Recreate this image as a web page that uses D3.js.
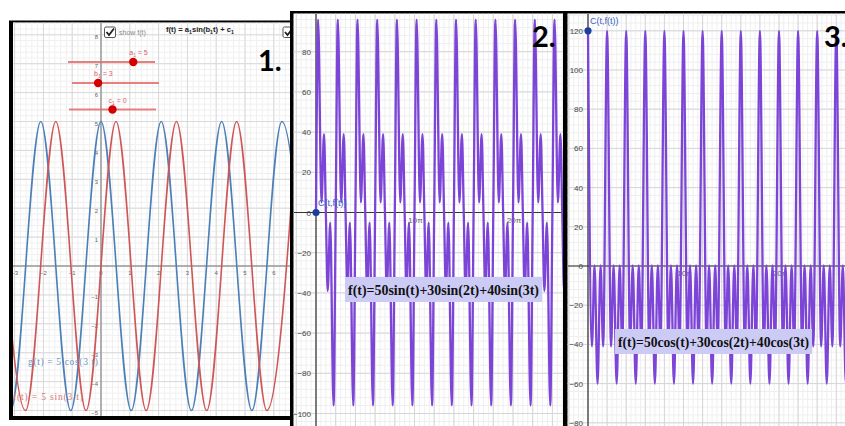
<!DOCTYPE html>
<html>
<head>
<meta charset="utf-8">
<script src="https://cdn.jsdelivr.net/npm/d3@7"></script>
<style>
  body { margin: 0; background: #fff; }
  svg { display: block; }
</style>
</head>
<body>
<div id="chart"></div>
<script>
// panel 1: g(t) = 5cos(3t) (blue) and f(t) = 5sin(3t) (red), turning points
const cosTurnT = [-4.19, -3.14, -2.09, -1.05, 0, 1.05, 2.09, 3.14, 4.19, 5.24, 6.28, 7.33];
const cosTurnV = [5, -5, 5, -5, 5, -5, 5, -5, 5, -5, 5, -5];
const sinTurnT = [-3.67, -2.62, -1.57, -0.52, 0.52, 1.57, 2.62, 3.67, 4.71, 5.76, 6.81];
const sinTurnV = [5, -5, 5, -5, 5, -5, 5, -5, 5, -5, 5];
const p1XTicks = [-3, -2, -1, 0, 1, 2, 3, 4, 5, 6];
const p1YTicks = [8, 7, 6, 5, 4, 3, 2, 1, -1, -2, -3, -4, -5];
const sliderLabels = ["a_1 = 5", "b_1 = 3", "c_1 = 0"];
const sliderValues = [5, 3, 0];
const sliderMin = [-10, 0, -10];
const sliderMax = [10, 10, 10];

// panel 2: f(t)=50sin(t)+30sin(2t)+40sin(3t), one 2π cycle
const sinCycleT = [0, 0.68, 1.75, 2.55, 3.14, 3.73, 4.53, 5.6];
const sinCycleV = [0, 96, 5, 39, 0, -39, -5, -96];
const sinCycles = 13;
const p2YTicks = [80, 60, 40, 20, 0, -20, -40, -60, -80, -100];

// panel 3: f(t)=50cos(t)+30cos(2t)+40cos(3t)
const cosCycleT = [0, 1.29, 2.15, 3.14, 4.13, 4.99];
const cosCycleV = [120, -41, 0.3, -60, 0.3, -41];
const cosCycles = 14;
const p3YTicks = [120, 100, 80, 60, 40, 20, 0, -20, -40, -60, -80];

const piTicks = [10, 20];   // multiples of π on the t axis

const W = 845, H = 426;
const purple = "#7d44d8";

const svg = d3.select("#chart").append("svg")
  .attr("width", W).attr("height", H)
  .style("font-family", "'Liberation Sans', Arial, sans-serif");

const defs = svg.append("defs");
function clip(id, b) {
  defs.append("clipPath").attr("id", id)
    .append("rect").attr("x", b.left).attr("y", b.top)
    .attr("width", b.right - b.left).attr("height", b.bottom - b.top);
  return `url(#${id})`;
}

function frame(outer, inner) {
  svg.append("rect").attr("x", outer.left).attr("y", outer.top)
    .attr("width", outer.right - outer.left).attr("height", outer.bottom - outer.top)
    .attr("fill", "#000");
  svg.append("rect").attr("x", inner.left).attr("y", inner.top)
    .attr("width", inner.right - inner.left).attr("height", inner.bottom - inner.top)
    .attr("fill", "#fff");
}

// "a_1" -> a with a small lowered 1
function subText(text, str) {
  str.split(/_(\d)/).forEach((part, i) => {
    if (!part) return;
    const t = text.append("tspan").text(part);
    if (i % 2) t.attr("font-size", "70%").attr("dy", 2);
    else if (i > 0) t.attr("dy", -2);
  });
  return text;
}

function gridLines(g, b, x, y, xStep, yStep, color) {
  const [t0, t1] = [x.invert(b.left), x.invert(b.right)];
  const [v0, v1] = [y.invert(b.bottom), y.invert(b.top)];
  g.selectAll(null)
    .data(d3.range(Math.ceil(t0 / xStep), Math.floor(t1 / xStep) + 1).map(i => i * xStep))
    .join("line")
      .attr("x1", d => x(d)).attr("x2", d => x(d))
      .attr("y1", b.top).attr("y2", b.bottom)
      .attr("stroke", color).attr("stroke-width", 1);
  g.selectAll(null)
    .data(d3.range(Math.ceil(v0 / yStep), Math.floor(v1 / yStep) + 1).map(i => i * yStep))
    .join("line")
      .attr("x1", b.left).attr("x2", b.right)
      .attr("y1", d => y(d)).attr("y2", d => y(d))
      .attr("stroke", color).attr("stroke-width", 1);
}

// ---------------- panel 1 ----------------
function drawPanel1() {
  const b = { left: 13, right: 291, top: 22.5, bottom: 416 };
  frame({ left: 9, right: 292, top: 20.5, bottom: 420 }, b);

  const x = d3.scaleLinear().domain([0, 1]).range([101, 129.8]);
  const y = d3.scaleLinear().domain([0, 1]).range([266, 237.1]);
  const g = svg.append("g").attr("clip-path", clip("c1", b));

  gridLines(g, b, x, y, 0.2, 0.2, "#f0f0f0");
  gridLines(g, b, x, y, 1, 1, "#d9d9d9");

  // axes
  g.append("line").attr("x1", b.left).attr("x2", b.right)
    .attr("y1", y(0)).attr("y2", y(0)).attr("stroke", "#777");
  g.append("line").attr("x1", x(0)).attr("x2", x(0))
    .attr("y1", b.top).attr("y2", b.bottom).attr("stroke", "#777");

  g.selectAll(null).data(p1XTicks).join("text")
    .attr("x", d => x(d)).attr("y", y(0) + 8.5)
    .attr("text-anchor", "middle").attr("font-size", 6).attr("fill", "#666")
    .text(d => d < 0 ? "−" + Math.abs(d) : d);
  g.selectAll(null).data(p1YTicks).join("text")
    .attr("x", x(0) - 3).attr("y", d => y(d) + 4.5)
    .attr("text-anchor", "end").attr("font-size", 6).attr("fill", "#666")
    .text(d => d < 0 ? "−" + Math.abs(d) : d);

  const line = d3.line().x(d => x(d[0])).y(d => y(d[1])).curve(d3.curveMonotoneX);
  g.append("path").datum(d3.zip(cosTurnT, cosTurnV))
    .attr("d", line).attr("fill", "none").attr("stroke", "#4a7fb8").attr("stroke-width", 1.6);
  g.append("path").datum(d3.zip(sinTurnT, sinTurnV))
    .attr("d", line).attr("fill", "none").attr("stroke", "#cf5656").attr("stroke-width", 1.6);

  // sliders
  const sliderRows = [62, 83, 109.5];
  const sliderLeft = [68, 72, 69];
  sliderLabels.forEach((lab, i) => {
    const s = d3.scaleLinear().domain([sliderMin[i], sliderMax[i]])
      .range([sliderLeft[i], sliderLeft[i] + 87]);
    g.append("line").attr("x1", s.range()[0]).attr("x2", s.range()[1])
      .attr("y1", sliderRows[i]).attr("y2", sliderRows[i])
      .attr("stroke", "#e46a6a").attr("stroke-width", 1.8).attr("opacity", 0.85);
    g.append("circle").attr("cx", s(sliderValues[i])).attr("cy", sliderRows[i])
      .attr("r", 4.2).attr("fill", "#d40000");
    subText(g.append("text").attr("x", s(sliderValues[i]) - 4).attr("y", sliderRows[i] - 7)
      .attr("font-size", 7).attr("fill", "#e06060"), lab);
  });

  // checkboxes + title
  const checkbox = (cx, cy) => {
    g.append("rect").attr("x", cx).attr("y", cy).attr("width", 11).attr("height", 10.5)
      .attr("rx", 1.5).attr("fill", "#fff").attr("stroke", "#555").attr("stroke-width", 1);
    g.append("path").attr("d", `M${cx + 2},${cy + 5} L${cx + 4.5},${cy + 8} L${cx + 9.5},${cy + 1.5}`)
      .attr("fill", "none").attr("stroke", "#222").attr("stroke-width", 1.8);
  };
  checkbox(104.5, 27);
  checkbox(283, 27);
  g.append("text").attr("x", 119).attr("y", 34.5).attr("font-size", 7).attr("fill", "#888")
    .text("show f(t)");
  subText(g.append("text").attr("x", 166).attr("y", 32).attr("font-size", 7.6)
    .attr("font-weight", "bold").attr("fill", "#222"), "f(t) = a_1sin(b_1t) + c_1");

  g.append("text").attr("x", 28).attr("y", 365).attr("font-size", 9.5)
    .attr("font-family", "'Liberation Serif', serif").attr("fill", "#6f95c4")
    .attr("textLength", 70).text("g(t)  =  5 cos(3 t)");
  g.append("text").attr("x", 13).attr("y", 400).attr("font-size", 9.5)
    .attr("font-family", "'Liberation Serif', serif").attr("fill", "#d77a7a")
    .attr("textLength", 70).text("f(t)  =  5 sin(3 t)");

  svg.append("text").attr("x", 258).attr("y", 70.5).attr("font-size", 29)
    .attr("font-family", "Lato, sans-serif").attr("font-weight", "bold").text("1.");
}

// ---------------- panels 2 and 3 ----------------
function drawWavePanel(o) {
  const b = o.inner;
  frame(o.outer, b);
  const x = d3.scaleLinear().domain([0, 10 * Math.PI]).range([o.x0, o.x10pi]);
  const y = d3.scaleLinear().domain([0, 20]).range([o.y0, o.y0 - o.px20]);
  const g = svg.append("g").attr("clip-path", clip(o.id, b));

  gridLines(g, b, x, y, Math.PI / 2, 4, "#efefef");
  gridLines(g, b, x, y, 2 * Math.PI, 20, "#d6d6d6");

  g.append("line").attr("x1", b.left).attr("x2", b.right)
    .attr("y1", y(0)).attr("y2", y(0)).attr("stroke", "#333").attr("stroke-width", 1.2);
  g.append("line").attr("x1", x(0)).attr("x2", x(0))
    .attr("y1", b.top).attr("y2", b.bottom).attr("stroke", "#333").attr("stroke-width", 1.2);

  g.selectAll(null).data(o.yTicks).join("text")
    .attr("x", x(0) - 5).attr("y", d => y(d) + 3)
    .attr("text-anchor", "end").attr("font-size", 8).attr("fill", "#444")
    .text(d => d < 0 ? "−" + Math.abs(d) : d);
  g.selectAll(null).data(piTicks).join("text")
    .attr("x", d => x(d * Math.PI) + 1).attr("y", y(0) + 10)
    .attr("text-anchor", "middle").attr("font-size", 8).attr("fill", "#666")
    .text(d => d + "π");

  const pts = d3.range(o.cycles).flatMap(k =>
    o.cycleT.map((t, i) => [t + k * 2 * Math.PI, o.cycleV[i]]));
  pts.push([o.cycles * 2 * Math.PI, o.cycleV[0]]);
  const line = d3.line().x(d => x(d[0])).y(d => y(d[1])).curve(d3.curveMonotoneX);
  g.append("path").datum(pts).attr("d", line)
    .attr("fill", "none").attr("stroke", purple).attr("stroke-width", 2.3)
    .attr("stroke-linejoin", "round");

  g.append("circle").attr("cx", x(0)).attr("cy", y(o.cycleV[0])).attr("r", 3.6).attr("fill", "#1c3f9e");
  g.append("text").attr("x", x(0) + 2).attr("y", y(o.cycleV[0]) - 7)
    .attr("font-size", 9).attr("fill", "#3a60c8").text("C(t,f(t))");

  g.append("rect").attr("x", o.box[0]).attr("y", o.box[1])
    .attr("width", o.box[2]).attr("height", 25).attr("fill", "#cbcbf6");
  g.append("text").attr("x", o.box[0] + 3).attr("y", o.box[1] + 18)
    .attr("font-family", "'Liberation Serif', 'Times New Roman', serif")
    .attr("font-weight", "bold").attr("font-size", 14.5).attr("fill", "#111")
    .attr("textLength", o.box[2] - 6).attr("lengthAdjust", "spacingAndGlyphs")
    .text(o.formula);

  svg.append("text").attr("x", o.numX).attr("y", 47).attr("font-size", 29)
    .attr("font-family", "Lato, sans-serif").attr("font-weight", "bold").text(o.num);
}

drawPanel1();
drawWavePanel({
  id: "c2", num: "2.", numX: 532,
  outer: { left: 290, right: 565, top: 11, bottom: H },
  inner: { left: 293.5, right: 563, top: 13.5, bottom: H },
  x0: 316, x10pi: 414.5, y0: 212.5, px20: 40.2,
  cycleT: sinCycleT, cycleV: sinCycleV, cycles: sinCycles, yTicks: p2YTicks,
  box: [345, 277, 197], formula: "f(t)=50sin(t)+30sin(2t)+40sin(3t)"
});
drawWavePanel({
  id: "c3", num: "3.", numX: 824,
  outer: { left: 563, right: W, top: 11, bottom: H },
  inner: { left: 567.5, right: W, top: 13.5, bottom: H },
  x0: 588, x10pi: 683.5, y0: 266, px20: 39.2,
  cycleT: cosCycleT, cycleV: cosCycleV, cycles: cosCycles, yTicks: p3YTicks,
  box: [615, 329, 197], formula: "f(t)=50cos(t)+30cos(2t)+40cos(3t)"
});
</script>
</body>
</html>
